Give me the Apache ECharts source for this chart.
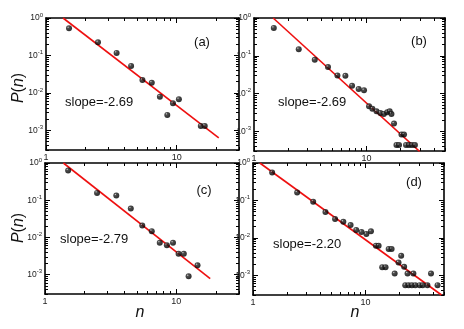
<!DOCTYPE html>
<html>
<head>
<meta charset="utf-8">
<script src="https://cdn.jsdelivr.net/npm/echarts@6/dist/echarts.min.js"></script>
<style>
html, body { margin: 0; padding: 0; background: #fff; }
#chart { width: 464px; height: 329px; }
</style>
</head>
<body>
<div id="chart"></div>
<script>
// tick labels
const xLabels = [1, 10];
const yLabels = [0.001, 0.01, 0.1, 1];

// panel (a)
const nA = [1.5, 2.5, 3.47, 4.48, 5.47, 6.45, 7.44, 8.48, 9.37, 10.4, 15.3, 16.4];
const pA = [0.53, 0.225, 0.117, 0.0525, 0.0222, 0.0188, 0.00797, 0.00259, 0.00531, 0.00679, 0.00132, 0.00132];
const fitNA = [1.35, 21.0];
const fitPA = [1, 0.00063];

// panel (b)
const nB = [1.5, 2.5, 3.47, 4.55, 5.52, 6.5, 7.45, 8.53, 9.52, 10.55, 11.3, 12.3, 13.3, 14.3, 15.3, 16.1, 16.7, 17.6, 18.5, 19.5, 20.5, 21.6, 22.5, 23.9, 25.4, 27.0];
const pB = [0.545, 0.149, 0.078, 0.05, 0.03, 0.0295, 0.016, 0.0131, 0.0122, 0.00457, 0.00397, 0.00337, 0.00306, 0.00288, 0.00317, 0.00337, 0.00288, 0.0016, 0.00043, 0.00043, 0.00082, 0.00082, 0.00043, 0.00043, 0.00043, 0.00043];
const fitNB = [1.48, 29.8];
const fitPB = [1, 0.00029];

// panel (c)
const nC = [1.5, 2.49, 3.49, 4.5, 5.5, 6.5, 7.48, 8.47, 9.43, 10.4, 11.4, 12.4, 14.5];
const pC = [0.63, 0.157, 0.133, 0.0596, 0.0208, 0.0147, 0.00716, 0.00618, 0.00716, 0.00363, 0.00363, 0.000895, 0.00177];
const fitNC = [1.38, 18.1];
const fitPC = [1, 0.00078];

// panel (d)
const nD = [1.48, 2.47, 3.43, 4.41, 5.37, 6.36, 7.38, 8.28, 9.23, 10.2, 11.2, 12.4, 13.1, 14.1, 15.1, 16.1, 17.1, 18.2, 19.7, 20.8, 22.1, 23.7, 26.7, 38.3, 22.6, 24.2, 25.9, 27.8, 30.4, 32.3, 35.6, 43.8];
const pD = [0.56, 0.163, 0.093, 0.049, 0.032, 0.027, 0.022, 0.0163, 0.0144, 0.0127, 0.015, 0.0062, 0.0062, 0.00166, 0.00166, 0.00504, 0.00504, 0.00112, 0.00222, 0.00333, 0.00169, 0.00112, 0.00112, 0.00112, 0.00055, 0.00055, 0.00055, 0.00055, 0.00055, 0.00055, 0.00055, 0.00055];
const fitND = [1.15, 47.5];
const fitPD = [1, 0.0003];

const panels = [
    { tag: '(a)', slope: 'slope=-2.69', n: nA, p: pA, fitN: fitNA, fitP: fitPA, xMax: 30, box: [46, 18, 193, 132], tagPos: [202, 42], slopePos: [65, 102] },
    { tag: '(b)', slope: 'slope=-2.69', n: nB, p: pB, fitN: fitNB, fitP: fitPB, xMax: 50, box: [254, 18, 191, 133], tagPos: [419, 41], slopePos: [278, 102] },
    { tag: '(c)', slope: 'slope=-2.79', n: nC, p: pC, fitN: fitNC, fitP: fitPC, xMax: 30, box: [45, 163, 194, 131], tagPos: [204, 190], slopePos: [60, 239] },
    { tag: '(d)', slope: 'slope=-2.20', n: nD, p: pD, fitN: fitND, fitP: fitPD, xMax: 50, box: [253, 163, 191, 132], tagPos: [414, 182], slopePos: [273, 244] }
]

const xMinor = []
for (const m of [1, 10]) {
    for (let k = 2; k <= 9; k++) xMinor.push(k * m)
}
const yMinor = []
for (const m of [0.0001, 0.001, 0.01, 0.1]) {
    for (let k = 2; k <= 9; k++) yMinor.push(k * m)
}

const black = '#000'
const font = 'Liberation Sans, Arial, sans-serif'

const makeAxis = (gi, pos, min, max, ticks, len, line, labels) => {
    const axis = {
        type: 'log',
        logBase: 10,
        gridIndex: gi,
        position: pos,
        min,
        max,
        splitLine: { show: false },
        axisLine: { show: line, onZero: false, lineStyle: { color: black, width: 1.6 } },
        axisTick: { show: true, inside: true, length: len, customValues: ticks, lineStyle: { color: black, width: 1 } },
        axisLabel: { show: false }
    }
    if (labels) axis.axisLabel = labels
    return axis
}

const xAxis = []
const yAxis = []
const series = []
const grid = []
const graphic = []

panels.forEach((pn, gi) => {
    const [l, t, w, h] = pn.box
    grid.push({ left: l, top: t, width: w, height: h })

    xAxis.push(makeAxis(gi, 'bottom', 1, pn.xMax, xLabels, 5, true, {
        show: true, customValues: xLabels, margin: 3, fontSize: 9, color: '#222', fontFamily: font
    }))
    xAxis.push(makeAxis(gi, 'bottom', 1, pn.xMax, xMinor, 3, false))
    xAxis.push(makeAxis(gi, 'top', 1, pn.xMax, xLabels, 5, true))
    xAxis.push(makeAxis(gi, 'top', 1, pn.xMax, xMinor, 3, false))

    yAxis.push(makeAxis(gi, 'left', 0.0003, 1, yLabels, 5, true, {
        show: true, customValues: yLabels, margin: 3, fontFamily: font, color: '#222',
        formatter: v => '{b|10}{e|' + Math.round(Math.log10(v)) + '}',
        rich: {
            b: { fontSize: 8.5, color: '#222', fontFamily: font },
            e: { fontSize: 6, color: '#222', fontFamily: font, padding: [0, 0, 6, 0] }
        }
    }))
    yAxis.push(makeAxis(gi, 'left', 0.0003, 1, yMinor, 3, false))
    yAxis.push(makeAxis(gi, 'right', 0.0003, 1, yLabels, 5, true))
    yAxis.push(makeAxis(gi, 'right', 0.0003, 1, yMinor, 3, false))

    series.push({
        type: 'line',
        xAxisIndex: gi * 4,
        yAxisIndex: gi * 4,
        data: pn.fitN.map((v, i) => [v, pn.fitP[i]]),
        showSymbol: false,
        lineStyle: { color: '#ee1010', width: 1.6 },
        z: 2
    })
    series.push({
        type: 'scatter',
        xAxisIndex: gi * 4,
        yAxisIndex: gi * 4,
        data: pn.n.map((v, i) => [v, pn.p[i]]),
        symbolSize: 6,
        itemStyle: {
            color: new echarts.graphic.RadialGradient(0.35, 0.32, 0.6, [
                { offset: 0, color: '#c8c8c8' },
                { offset: 0.3, color: '#222' },
                { offset: 1, color: '#000' }
            ])
        },
        z: 3
    })

    graphic.push({
        type: 'text', x: pn.tagPos[0], y: pn.tagPos[1],
        style: { text: pn.tag, font: '13px ' + font, fill: '#111', textAlign: 'center', textVerticalAlign: 'middle' }
    })
    graphic.push({
        type: 'text', x: pn.slopePos[0], y: pn.slopePos[1],
        style: { text: pn.slope, font: '13px ' + font, fill: '#111', textAlign: 'left', textVerticalAlign: 'middle' }
    })
})

// axis titles
const yTitle = {
    text: '{i|P}({i|n})', font: '16px ' + font, fill: '#111', textAlign: 'center', textVerticalAlign: 'middle',
    rich: { i: { fontStyle: 'italic', fontSize: 16, fontFamily: font } }
}
graphic.push({ type: 'text', x: 19, y: 88, rotation: Math.PI / 2, style: Object.assign({}, yTitle) })
graphic.push({ type: 'text', x: 19, y: 228, rotation: Math.PI / 2, style: Object.assign({}, yTitle) })
graphic.push({ type: 'text', x: 140, y: 313, style: { text: 'n', font: 'italic 16px ' + font, fill: '#111', textAlign: 'center', textVerticalAlign: 'middle' } })
graphic.push({ type: 'text', x: 355, y: 313, style: { text: 'n', font: 'italic 16px ' + font, fill: '#111', textAlign: 'center', textVerticalAlign: 'middle' } })

const chart = echarts.init(document.getElementById('chart'), null, { renderer: 'canvas' })
chart.setOption({
    animation: false,
    backgroundColor: '#fff',
    grid,
    xAxis,
    yAxis,
    series,
    graphic
})
</script>
</body>
</html>
